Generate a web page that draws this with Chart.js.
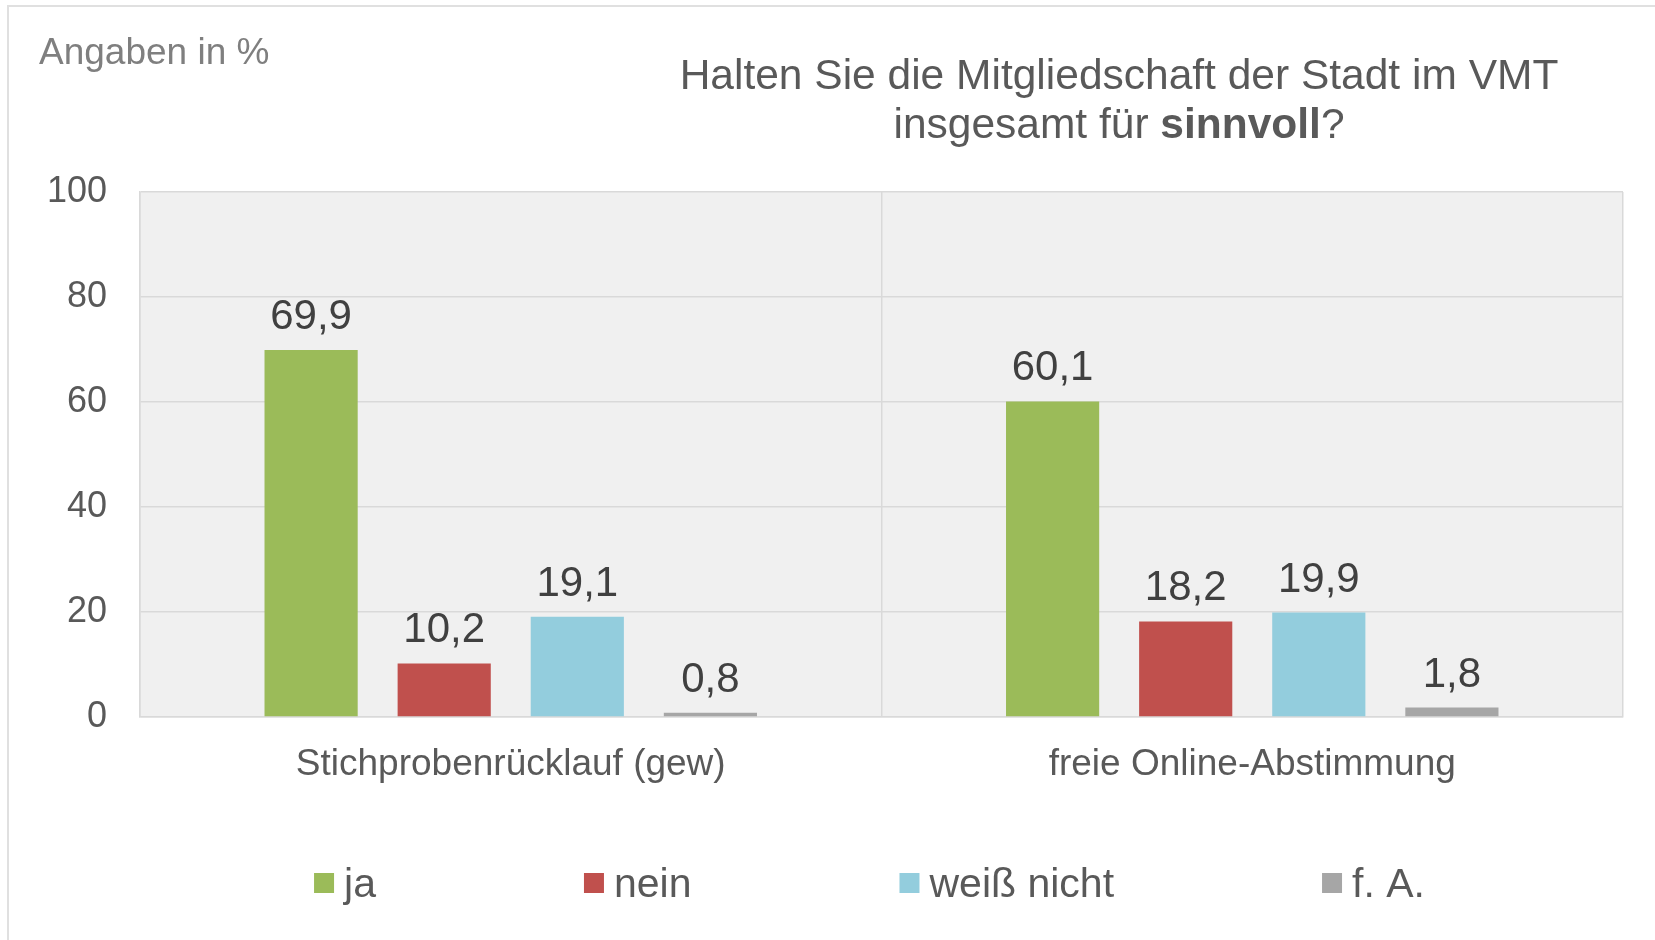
<!DOCTYPE html>
<html>
<head>
<meta charset="utf-8">
<title>Mitgliedschaft im VMT</title>
<script src="https://cdn.jsdelivr.net/npm/chart.js@4.4.0/dist/chart.umd.min.js"></script>
<style>
  html, body { margin: 0; padding: 0; background: #fff; }
  #wrap { width: 1655px; height: 940px; }
</style>
</head>
<body>
<div id="wrap"><canvas id="chart" width="1655" height="940"></canvas></div>
<script>
// Data
const categories = ['Stichprobenrücklauf (gew)', 'freie Online-Abstimmung'];
const seriesNames = ['ja', 'nein', 'weiß nicht', 'f. A.'];
const seriesColors = ['#9BBB59', '#C0504D', '#93CDDD', '#A6A6A6'];
const jaValues = [69.9, 60.1];
const neinValues = [10.2, 18.2];
const weissNichtValues = [19.1, 19.9];
const keineAngabeValues = [0.8, 1.8];
const yTicks = [0, 20, 40, 60, 80, 100];

const unitLabel = 'Angaben in %';
const titleLine1 = 'Halten Sie die Mitgliedschaft der Stadt im VMT';
const titleLine2 = [['insgesamt für ', false], ['sinnvoll', true], ['?', false]];

const FONT = '"Liberation Sans", Arial, sans-serif';
const GRID = '#D9D9D9';

const allValues = [jaValues, neinValues, weissNichtValues, keineAngabeValues];

// background, outer frame, plot fill
const plotBackground = {
    id: 'plotBackground',
    beforeDraw(chart) {
        const { ctx, chartArea: a } = chart;
        ctx.save();
        ctx.fillStyle = '#ffffff';
        ctx.fillRect(0, 0, chart.width, chart.height);
        ctx.strokeStyle = '#E0E0E0';
        ctx.lineWidth = 2;
        ctx.strokeRect(8, 6, chart.width, chart.height);
        ctx.fillStyle = '#F0F0F0';
        ctx.fillRect(a.left, a.top, a.right - a.left, a.bottom - a.top);
        ctx.restore();
    }
};

// unit text + two-line title with bold word
const headings = {
    id: 'headings',
    afterDraw(chart) {
        const ctx = chart.ctx;
        ctx.save();
        ctx.textBaseline = 'alphabetic';
        ctx.textAlign = 'left';
        ctx.font = '37px ' + FONT;
        ctx.fillStyle = '#7F7F7F';
        ctx.fillText(unitLabel, 39, 64);

        const cx = 1119;
        ctx.fillStyle = '#595959';
        ctx.font = '42.5px ' + FONT;
        ctx.textAlign = 'center';
        ctx.fillText(titleLine1, cx, 89);

        ctx.textAlign = 'left';
        let total = 0;
        const widths = titleLine2.map(([txt, bold]) => {
            ctx.font = (bold ? 'bold ' : '') + '42.5px ' + FONT;
            const w = ctx.measureText(txt).width;
            total += w;
            return w;
        });
        let x = cx - total / 2;
        titleLine2.forEach(([txt, bold], i) => {
            ctx.font = (bold ? 'bold ' : '') + '42.5px ' + FONT;
            ctx.fillText(txt, x, 138);
            x += widths[i];
        });
        ctx.restore();
    }
};

// value labels above bars, German decimal comma
const valueLabels = {
    id: 'valueLabels',
    afterDatasetsDraw(chart) {
        const ctx = chart.ctx;
        ctx.save();
        ctx.font = '42px ' + FONT;
        ctx.fillStyle = '#404040';
        ctx.textAlign = 'center';
        ctx.textBaseline = 'alphabetic';
        chart.data.datasets.forEach((ds, i) => {
            chart.getDatasetMeta(i).data.forEach((bar, j) => {
                const txt = ds.data[j].toFixed(1).replace('.', ',');
                ctx.fillText(txt, bar.x, bar.y - 21);
            });
        });
        ctx.restore();
    }
};

// legend row under the chart
const legendRow = {
    id: 'legendRow',
    afterDraw(chart) {
        const { ctx, chartArea: a } = chart;
        const box = 20, gap = 10, itemGap = 208, cy = 883;
        ctx.save();
        ctx.font = '41px ' + FONT;
        ctx.textBaseline = 'alphabetic';
        ctx.textAlign = 'left';
        const items = chart.data.datasets.map(ds => ({
            text: ds.label, color: ds.backgroundColor,
            w: box + gap + ctx.measureText(ds.label).width
        }));
        const total = items.reduce((s, it) => s + it.w, 0) + itemGap * (items.length - 1);
        let x = (a.left + a.right) / 2 - total / 2 - 12;
        items.forEach(it => {
            ctx.fillStyle = it.color;
            ctx.fillRect(x, cy - box / 2, box, box);
            ctx.fillStyle = '#595959';
            ctx.fillText(it.text, x + box + gap, cy + 14);
            x += it.w + itemGap;
        });
        ctx.restore();
    }
};

new Chart(document.getElementById('chart'), {
    type: 'bar',
    data: {
        labels: categories,
        datasets: seriesNames.map((name, i) => ({
            label: name,
            data: allValues[i],
            backgroundColor: seriesColors[i],
            borderWidth: 0,
            barPercentage: 0.70,
            categoryPercentage: 0.718
        }))
    },
    options: {
        responsive: false,
        animation: false,
        layout: { padding: { left: 0, right: 32, top: 192, bottom: 123 } },
        plugins: {
            legend: { display: false },
            tooltip: { enabled: false }
        },
        scales: {
            x: {
                grid: { color: GRID, lineWidth: 1.5, drawTicks: false, offset: true },
                border: { color: GRID, width: 1.5 },
                ticks: { color: '#595959', font: { size: 37, family: FONT }, padding: 26 },
                afterFit: s => { s.height = 100; }
            },
            y: {
                min: 0,
                max: 100,
                afterBuildTicks: s => { s.ticks = yTicks.map(v => ({ value: v })); },
                grid: { color: GRID, lineWidth: 1.5, drawTicks: false },
                border: { color: GRID, width: 1.5 },
                ticks: { color: '#595959', font: { size: 36, family: FONT }, padding: 33 },
                afterFit: s => { s.width = 140; }
            }
        }
    },
    plugins: [plotBackground, headings, valueLabels, legendRow]
});
</script>
</body>
</html>
